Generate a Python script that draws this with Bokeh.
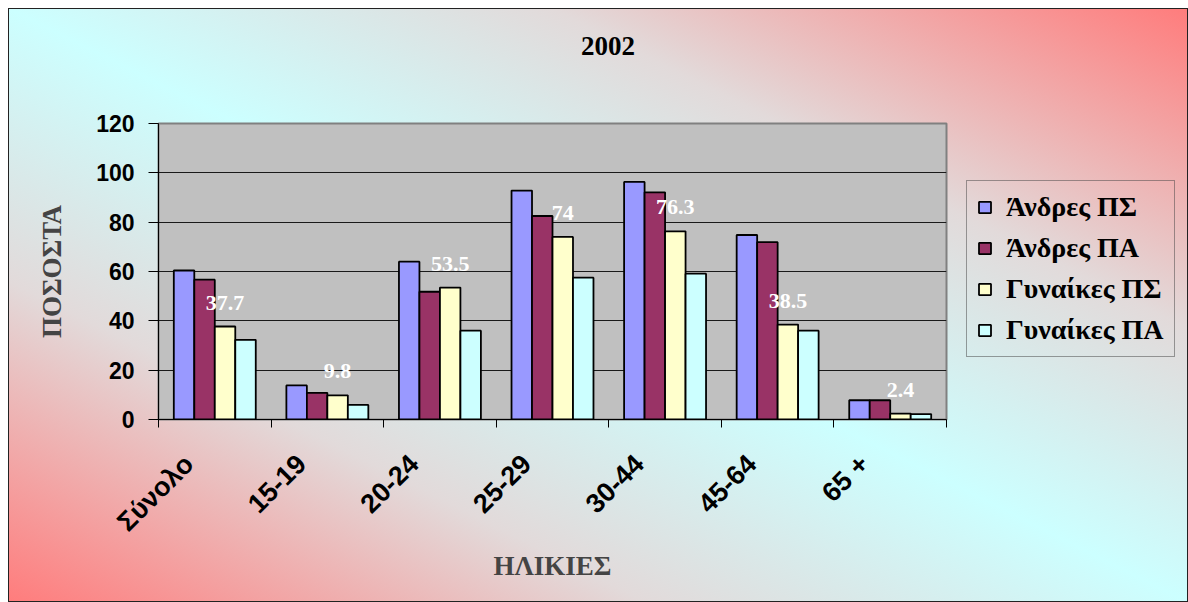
import math
from bokeh.plotting import figure
from bokeh.layouts import row, column
from bokeh.models import (ColumnDataSource, Range1d, FixedTicker, Legend, LegendItem,
                          LabelSet, Div)
from bokeh.embed import file_html
from bokeh.resources import INLINE

# ---- data ----
chart_title = "2002"
categories = ["Σύνολο", "15-19", "20-24", "25-29", "30-44", "45-64", "65 +"]
series_names = ["Άνδρες ΠΣ", "Άνδρες ΠΑ", "Γυναίκες ΠΣ", "Γυναίκες ΠΑ"]
andres_ps = [60.4, 13.8, 64.0, 92.8, 96.3, 74.8, 7.8]
andres_pa = [56.7, 10.8, 51.8, 82.5, 92.1, 71.9, 7.8]
gynaikes_ps = [37.7, 9.8, 53.5, 74.0, 76.3, 38.5, 2.4]
gynaikes_pa = [32.3, 5.9, 36.0, 57.5, 59.1, 36.0, 2.2]
y_ticks = [0, 20, 40, 60, 80, 100, 120]

colors = ["#9999FF", "#993366", "#FFFFCC", "#CCFFFF"]
values = [andres_ps, andres_pa, gynaikes_ps, gynaikes_pa]

SERIF = "Liberation Serif"
SANS = "Liberation Sans"

# ---------------- title ----------------
title_div = Div(
    text=('<div style="width:1180px;height:60px;line-height:76px;text-align:center;'
          'padding-left:20px;box-sizing:border-box;font-family:\'Liberation Serif\',serif;'
          'font-weight:bold;font-size:27px;color:black;margin:0">' + chart_title + '</div>'),
    width=1180, height=60, margin=0)

# ---------------- main chart ----------------
p = figure(width=958, height=534, output_backend="svg", toolbar_location=None,
           x_range=Range1d(0, len(categories)), y_range=Range1d(0, 120),
           min_border_left=150, min_border_right=20, min_border_top=55,
           min_border_bottom=183, margin=0)
p.border_fill_color = None
p.background_fill_color = "#C0C0C0"
p.outline_line_color = "#808080"
p.outline_line_width = 2

centers = [i + 0.5 for i in range(len(categories))]
bar_w = 0.182
offsets = [-1.5 * bar_w, -0.5 * bar_w, 0.5 * bar_w, 1.5 * bar_w]

sources = []
for vals, col, off in zip(values, colors, offsets):
    src = ColumnDataSource(dict(x=[c + off for c in centers], top=vals))
    sources.append(src)
    p.vbar(x="x", top="top", width=bar_w, bottom=0, source=src,
           fill_color=col, line_color="black", line_width=1.8)

# data labels for Γυναίκες ΠΣ
lab_src = ColumnDataSource(dict(x=[c + offsets[2] for c in centers], y=gynaikes_ps,
                                txt=[f"{v:g}" for v in gynaikes_ps]))
labels = LabelSet(x="x", y="y", text="txt", source=lab_src, y_offset=24,
                  text_align="center", text_baseline="middle",
                  text_font=SERIF, text_font_style="bold", text_font_size="22px",
                  text_color="white")
p.add_layout(labels)

# y axis
p.yaxis.ticker = FixedTicker(ticks=y_ticks)
p.yaxis.axis_label = "ΠΟΣΟΣΤΑ"
p.yaxis.axis_label_text_font = SERIF
p.yaxis.axis_label_text_font_style = "bold"
p.yaxis.axis_label_text_font_size = "27px"
p.yaxis.axis_label_standoff = 26
p.yaxis.major_label_text_font = SANS
p.yaxis.major_label_text_font_style = "bold"
p.yaxis.major_label_text_font_size = "23px"
p.yaxis.major_label_text_color = "black"
p.yaxis.major_label_standoff = 14
p.yaxis.major_tick_out = 10
p.yaxis.major_tick_in = 0
p.yaxis.minor_tick_out = 0
p.yaxis.minor_tick_in = 0
p.yaxis.axis_line_color = "black"
p.yaxis.major_tick_line_color = "black"

# x axis: slanted category labels, minor ticks at category boundaries
label_pos = [c - 0.23 for c in centers]
p.xaxis.ticker = FixedTicker(ticks=label_pos, minor_ticks=list(range(len(categories) + 1)))
p.xaxis.major_label_overrides = {c: cat for c, cat in zip(label_pos, categories)}
p.xaxis.major_label_orientation = math.pi / 4
p.xaxis.major_label_text_font = SANS
p.xaxis.major_label_text_font_style = "bold"
p.xaxis.major_label_text_font_size = "27px"
p.xaxis.major_label_text_color = "black"
p.xaxis.major_label_standoff = 32
p.xaxis.major_tick_out = 0
p.xaxis.major_tick_in = 0
p.xaxis.minor_tick_out = 8
p.xaxis.minor_tick_in = 0
p.xaxis.minor_tick_line_color = "black"
p.xaxis.axis_line_color = "black"
p.xaxis.axis_label = "ΗΛΙΚΙΕΣ"
p.xaxis.axis_label_text_font = SERIF
p.xaxis.axis_label_text_font_style = "bold"
p.xaxis.axis_label_text_font_size = "27px"
p.xaxis.axis_label_standoff = 0

p.xgrid.visible = False
p.ygrid.ticker = FixedTicker(ticks=y_ticks)
p.ygrid.grid_line_color = "#1a1a1a"
p.ygrid.grid_line_width = 1

# ---------------- legend panel ----------------
q = figure(width=214, height=534, output_backend="svg", toolbar_location=None,
           x_range=Range1d(0, 1), y_range=Range1d(0, 1),
           x_axis_type=None, y_axis_type=None, min_border=0, margin=0)
q.border_fill_color = None
q.background_fill_color = None
q.outline_line_color = None

items = []
for name, col, src in zip(series_names, colors, sources):
    # hidden proxies of the bar series, used only for the legend swatches
    r = q.vbar(x="x", top="top", width=bar_w, bottom=0, source=src,
               fill_color=col, line_color="black", line_width=1.8, visible=False)
    items.append(LegendItem(label=name, renderers=[r]))

legend = Legend(items=items, location=(0, 62), click_policy="none",
                label_text_font=SERIF, label_text_font_style="bold",
                label_text_font_size="28px", label_text_color="black",
                glyph_width=15, glyph_height=14, label_standoff=14,
                spacing=9, padding=10, margin=0,
                border_line_color="#444444", border_line_width=1,
                background_fill_alpha=0)
q.add_layout(legend, "center")

layout = column(title_div, row(p, q, spacing=0), spacing=0)
layout.styles = {
    "background": "linear-gradient(to top right, #FF7C7C 0%, #E2DADA 27%, #CCFFFF 50%, #E2DADA 73%, #FF7C7C 100%)",
    "outline": "1px solid #222222",
    "outline-offset": "-1px",
    "margin-left": "8px",
    "margin-top": "8px",
}

open("out.html", "w").write(file_html(layout, INLINE))
